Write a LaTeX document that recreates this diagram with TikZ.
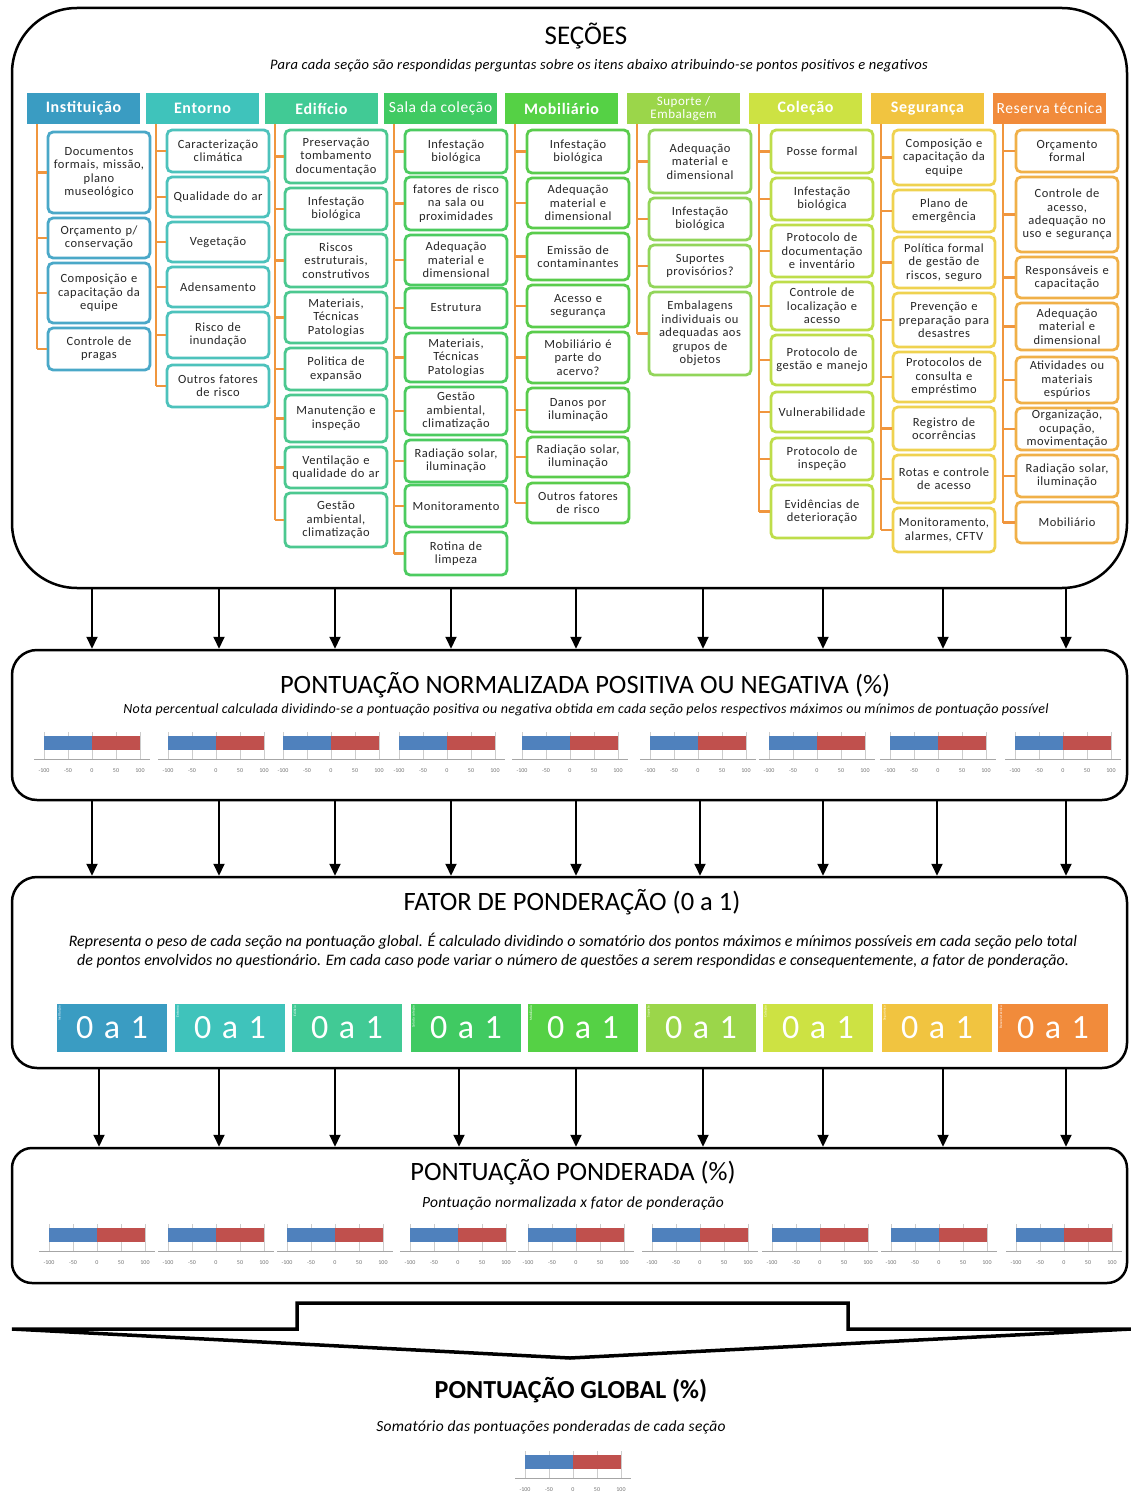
\documentclass[tikz,border=0pt]{standalone}
\usepackage{fontspec}
\setmainfont{Carlito}
\newfontfamily\itemfont[LetterSpace=4]{Carlito}
\newfontfamily\headfont[LetterSpace=4]{Carlito}
\newfontfamily\subfont[LetterSpace=2]{Carlito}
\newfontfamily\tilefont[LetterSpace=8]{Carlito}
\usetikzlibrary{arrows.meta}

% header / tile colours
\definecolor{cIns}{HTML}{3A9CC2}
\definecolor{cEnt}{HTML}{3FC3BB}
\definecolor{cEdf}{HTML}{41CA95}
\definecolor{cSala}{HTML}{40CA62}
\definecolor{cMob}{HTML}{55D145}
\definecolor{cSup}{HTML}{9BD64A}
\definecolor{cCol}{HTML}{CDE243}
\definecolor{cSeg}{HTML}{F1C440}
\definecolor{cRes}{HTML}{F18B3B}
% item borders
\definecolor{bIns}{HTML}{4AA8C8}
\definecolor{bEnt}{HTML}{4DC2BC}
\definecolor{bEdf}{HTML}{4CC890}
\definecolor{bSala}{HTML}{4CCB60}
\definecolor{bMob}{HTML}{5ACC4C}
\definecolor{bSup}{HTML}{92D55A}
\definecolor{bCol}{HTML}{BEDD4A}
\definecolor{bSeg}{HTML}{EFD250}
\definecolor{bRes}{HTML}{F0B048}
\definecolor{trunkor}{HTML}{F0963E}
\definecolor{barblue}{HTML}{4F81BD}
\definecolor{barred}{HTML}{C0504D}

\tikzset{
  panel/.style={draw, line width=2.5pt, rounded corners=#1},
  head/.style={minimum width=113pt, minimum height=31pt, inner sep=1pt, align=center,
    text=white, font=\headfont\bfseries\fontsize{16}{17}\selectfont},
  item/.style={draw=#1, line width=2.8pt, rounded corners=5pt, fill=white,
    text width=100pt, align=center, inner sep=1pt, text=black!85,
    font=\itemfont\fontsize{12.5}{13.4}\selectfont},
  trunk/.style={draw=trunkor, line width=2.5pt},
  arrow/.style={-{Triangle[width=11pt,length=12pt]}, line width=2pt},
  bigtitle/.style={font=\fontsize{26.5}{29}\selectfont},
  subtitle/.style={font=\subfont\itshape\fontsize{14.5}{17}\selectfont, align=center},
  tile/.style={minimum width=110pt, minimum height=48pt, inner sep=0pt, text=white,
    font=\tilefont\fontsize{34}{34}\selectfont},
  tilename/.style={rotate=90, anchor=east, inner sep=0pt, text=white,
    font=\fontsize{3.5}{4}\selectfont},
  tick/.style={inner sep=0pt, text=black!55, font=\fontsize{6}{6}\selectfont}
}

% small bar chart: #1 = zero x, #2 = top of the bars
\newcommand{\scorechart}[2]{
  \foreach \k in {-2,...,2}
    \draw[black!20, line width=0.7pt] ({#1+24*\k},#2-4) -- ({#1+24*\k},#2+23);
  \fill[barblue] (#1-48,#2) rectangle (#1,#2+14);
  \fill[barred] (#1,#2) rectangle (#1+48,#2+14);
  \draw[black!35, line width=0.8pt] (#1-58,#2+23) -- (#1+58,#2+23);
  \foreach \k/\lab in {-2/-100,-1/-50,0/0,1/50,2/100}
    \node[tick] at ({#1+24*\k},#2+35) {\lab};
}

\begin{document}
\begin{tikzpicture}[x=1pt, y=-1pt]
\useasboundingbox (0,0) rectangle (1131,1495);

% Panels
\node[panel=65pt, minimum width=1115pt, minimum height=580pt] (secoes) at (569.5,298) {};
\node[panel=25pt, minimum width=1115pt, minimum height=150pt] (normal) at (569.5,725) {};
\node[panel=25pt, minimum width=1115pt, minimum height=191pt] (fator) at (569.5,972.5) {};
\node[panel=20pt, minimum width=1115pt, minimum height=135pt] (ponder) at (569.5,1215.5) {};

% SEÇÕES
\node[bigtitle, font=\fontsize{27}{30}\selectfont] (secT) at (586,36) {SEÇÕES};
\node[subtitle] (secS) at (599,66) {Para cada seção são respondidas perguntas sobre os itens abaixo atribuindo-se pontos positivos e negativos};

% Headers
\node[head, fill=cIns] (insH) at (83.5,108.5) {Instituição};
\node[head, fill=cEnt] (entH) at (202.5,108.5) {Entorno};
\node[head, fill=cEdf] (edfH) at (321.5,108.5) {Edifício};
\node[head, fill=cSala, font=\headfont\fontsize{15.5}{17}\selectfont] (salaH) at (440.5,108.5) {Sala da coleção};
\node[head, fill=cMob] (mobH) at (561.5,108.5) {Mobiliário};
\node[head, fill=cSup, font=\headfont\fontsize{13}{13}\selectfont] (supH) at (683.5,108.5) {Suporte /\\Embalagem};
\node[head, fill=cCol] (colH) at (805.5,108.5) {Coleção};
\node[head, fill=cSeg] (segH) at (927.5,108.5) {Segurança};
\node[head, fill=cRes, font=\headfont\fontsize{15.5}{17}\selectfont] (resH) at (1049.5,108.5) {Reserva técnica};

\foreach \nm in {ins,ent,edf,sala,mob,sup,col,seg,res}
  \coordinate (\nm T) at ([xshift=10pt]\nm H.south west);

% Instituição
\foreach \yt/\yb/\txt [count=\n] in {
  132/213/{Documentos\\formais, missão,\\plano\\museológico},
  218/258/{Orçamento p/\\conservação},
  263/323/{Composição e\\capacitação da\\equipe},
  328/370/{Controle de\\pragas}}{
  \node[item=bIns, minimum height={(\yb-\yt)*1pt}] (ins\n) at (99,{(\yt+\yb)/2}) {\txt};
  \draw[trunk] (ins\n.west) -- (ins\n.west -| insT);
}
\draw[trunk] (insT) -- (ins4.west -| insT);

% Entorno
\foreach \yt/\yb/\txt [count=\n] in {
  130/172/{Caracterização\\climática},
  177/217/{Qualidade do ar},
  222/262/{Vegetação},
  267/307/{Adensamento},
  312/358/{Risco de\\inundação},
  365/407/{Outros fatores\\de risco}}{
  \node[item=bEnt, minimum height={(\yb-\yt)*1pt}] (ent\n) at (218,{(\yt+\yb)/2}) {\txt};
  \draw[trunk] (ent\n.west) -- (ent\n.west -| entT);
}
\draw[trunk] (entT) -- (ent6.west -| entT);

% Edifício
\foreach \yt/\yb/\txt [count=\n] in {
  130/183/{Preservação\\tombamento\\documentação},
  188/230/{Infestação\\biológica},
  234/287/{Riscos\\estruturais,\\construtivos},
  292/343/{Materiais,\\Técnicas\\Patologias},
  348/390/{Politica de\\expansão},
  395/442/{Manutenção e\\inspeção},
  447/488/{Ventilação e\\qualidade do ar},
  493/547/{Gestão\\ambiental,\\climatização}}{
  \node[item=bEdf, minimum height={(\yb-\yt)*1pt}] (edf\n) at (336,{(\yt+\yb)/2}) {\txt};
  \draw[trunk] (edf\n.west) -- (edf\n.west -| edfT);
}
\draw[trunk] (edfT) -- (edf8.west -| edfT);

% Sala da coleção
\foreach \yt/\yb/\txt [count=\n] in {
  130/173/{Infestação\\biológica},
  177/230/{fatores de risco\\na sala ou\\proximidades},
  235/285/{Adequação\\material e\\dimensional},
  288/328/{Estrutura},
  333/382/{Materiais,\\Técnicas\\Patologias},
  387/435/{Gestão\\ambiental,\\climatização},
  440/482/{Radiação solar,\\iluminação},
  485/527/{Monitoramento},
  532/575/{Rotina de\\limpeza}}{
  \node[item=bSala, minimum height={(\yb-\yt)*1pt}] (sala\n) at (456,{(\yt+\yb)/2}) {\txt};
  \draw[trunk] (sala\n.west) -- (sala\n.west -| salaT);
}
\draw[trunk] (salaT) -- (sala9.west -| salaT);

% Mobiliário
\foreach \yt/\yb/\txt [count=\n] in {
  130/173/{Infestação\\biológica},
  178/228/{Adequação\\material e\\dimensional},
  233/280/{Emissão de\\contaminantes},
  285/327/{Acesso e\\segurança},
  332/383/{Mobiliário é\\parte do\\acervo?},
  388/432/{Danos por\\iluminação},
  437/477/{Radiação solar,\\iluminação},
  483/523/{Outros fatores\\de risco}}{
  \node[item=bMob, minimum height={(\yb-\yt)*1pt}] (mob\n) at (578,{(\yt+\yb)/2}) {\txt};
  \draw[trunk] (mob\n.west) -- (mob\n.west -| mobT);
}
\draw[trunk] (mobT) -- (mob8.west -| mobT);

% Suporte / Embalagem
\foreach \yt/\yb/\txt [count=\n] in {
  130/193/{Adequação\\material e\\dimensional},
  198/240/{Infestação\\biológica},
  245/287/{Suportes\\provisórios?},
  292/375/{Embalagens\\individuais ou\\adequadas aos\\grupos de\\objetos}}{
  \node[item=bSup, minimum height={(\yb-\yt)*1pt}] (sup\n) at (700,{(\yt+\yb)/2}) {\txt};
  \draw[trunk] (sup\n.west) -- (sup\n.west -| supT);
}
\draw[trunk] (supT) -- (sup4.west -| supT);

% Coleção
\foreach \yt/\yb/\txt [count=\n] in {
  130/173/{Posse formal},
  178/220/{Infestação\\biológica},
  225/277/{Protocolo de\\documentação\\e inventário},
  282/330/{Controle de\\localização e\\acesso},
  335/385/{Protocolo de\\gestão e manejo},
  392/432/{Vulnerabilidade},
  438/480/{Protocolo de\\inspeção},
  485/538/{Evidências de\\deterioração}}{
  \node[item=bCol, minimum height={(\yb-\yt)*1pt}] (col\n) at (822,{(\yt+\yb)/2}) {\txt};
  \draw[trunk] (col\n.west) -- (col\n.west -| colT);
}
\draw[trunk] (colT) -- (col8.west -| colT);

% Segurança
\foreach \yt/\yb/\txt [count=\n] in {
  130/185/{Composição e\\capacitação da\\equipe},
  190/232/{Plano de\\emergência},
  237/288/{Política formal\\de gestão de\\riscos, seguro},
  293/347/{Prevenção e\\preparação para\\desastres},
  352/402/{Protocolos de\\consulta e\\empréstimo},
  407/450/{Registro de\\ocorrências},
  455/503/{Rotas e controle\\de acesso},
  508/552/{Monitoramento,\\alarmes, CFTV}}{
  \node[item=bSeg, minimum height={(\yb-\yt)*1pt}] (seg\n) at (944,{(\yt+\yb)/2}) {\txt};
  \draw[trunk] (seg\n.west) -- (seg\n.west -| segT);
}
\draw[trunk] (segT) -- (seg8.west -| segT);

% Reserva técnica
\foreach \yt/\yb/\txt [count=\n] in {
  130/172/{Orçamento\\formal},
  177/252/{Controle de\\acesso,\\adequação no\\uso e segurança},
  257/298/{Responsáveis e\\capacitação},
  303/350/{Adequação\\material e\\dimensional},
  357/403/{Atividades ou\\materiais\\espúrios},
  408/450/{Organização,\\ocupação,\\movimentação},
  455/497/{Radiação solar,\\iluminação},
  502/543/{Mobiliário}}{
  \node[item=bRes, minimum height={(\yb-\yt)*1pt}] (res\n) at (1067,{(\yt+\yb)/2}) {\txt};
  \draw[trunk] (res\n.west) -- (res\n.west -| resT);
}
\draw[trunk] (resT) -- (res8.west -| resT);

% Arrows between panels
\foreach \ax in {92,219,335,451,576,703,823,943,1066}{
  \coordinate (ax) at (\ax,0);
  \draw[arrow] (secoes.south -| ax) -- (normal.north -| ax);
}
\foreach \ax in {92,219,335,451,576,700,823,937,1066}{
  \coordinate (ax) at (\ax,0);
  \draw[arrow] (normal.south -| ax) -- (fator.north -| ax);
}
\foreach \ax in {99,219,335,459,576,703,823,943,1066}{
  \coordinate (ax) at (\ax,0);
  \draw[arrow] (fator.south -| ax) -- (ponder.north -| ax);
}

% Pontuação normalizada
\node[bigtitle] (norT) at (585,685) {PONTUAÇÃO NORMALIZADA  POSITIVA  OU NEGATIVA (\%)};
\node[subtitle, font=\subfont\itshape\fontsize{14}{16}\selectfont] (norS) at (586,710) {Nota percentual calculada dividindo-se a pontuação positiva ou negativa obtida em cada seção pelos respectivos máximos ou mínimos de pontuação possível};
\foreach \cx in {92,216,331,447,570,698,817,938,1063}{
  \scorechart{\cx}{736}
}

% Fator de ponderação
\node[bigtitle] (fatT) at (572,902) {FATOR DE PONDERAÇÃO (0 a 1)};
\node[subtitle, font=\itshape\fontsize{16}{19}\selectfont] (fatS) at (573,951) {Representa o peso de cada seção na pontuação global. É calculado dividindo o somatório dos pontos máximos e mínimos possíveis em cada seção pelo total\\de pontos envolvidos no questionário. Em cada caso pode variar o número de questões a serem respondidas e consequentemente, a fator de ponderação.};
\foreach \tx/\tc/\tn [count=\n] in {112/cIns/Instituição, 230/cEnt/Entorno, 347/cEdf/Edifício,
    466/cSala/Sala da coleção, 583/cMob/Mobiliário, 701/cSup/Suporte, 818/cCol/Coleção,
    937/cSeg/Segurança, 1053/cRes/Reserva técnica}{
  \node[tile, fill=\tc] (tile\n) at (\tx,1028) {0 a 1};
  \node[tilename] (tilen\n) at ([xshift=3pt,yshift=-2pt]tile\n.north west) {\tn};
}

% Pontuação ponderada
\node[bigtitle] (ponT) at (573,1172) {PONTUAÇÃO PONDERADA (\%)};
\node[subtitle, font=\subfont\itshape\fontsize{15.5}{18}\selectfont] (ponS) at (573,1203) {Pontuação normalizada x fator de ponderação};
\foreach \cx in {97,216,335,458,576,700,820,939,1064}{
  \scorechart{\cx}{1228}
}

% Brace arrow
\draw[line width=3.5pt, line join=miter] (12,1329) -- (297,1329) -- (297,1303) -- (848,1303)
  -- (848,1329) -- (1131,1329) -- (570,1358) -- cycle;

% Pontuação global
\node[font=\bfseries\fontsize{26}{28}\selectfont] (gloT) at (571,1390) {PONTUAÇÃO GLOBAL (\%)};
\node[subtitle, font=\subfont\itshape\fontsize{15.5}{18}\selectfont] (gloS) at (551,1427) {Somatório das pontuações ponderadas de cada seção};
\scorechart{573}{1455}

\end{tikzpicture}
\end{document}
